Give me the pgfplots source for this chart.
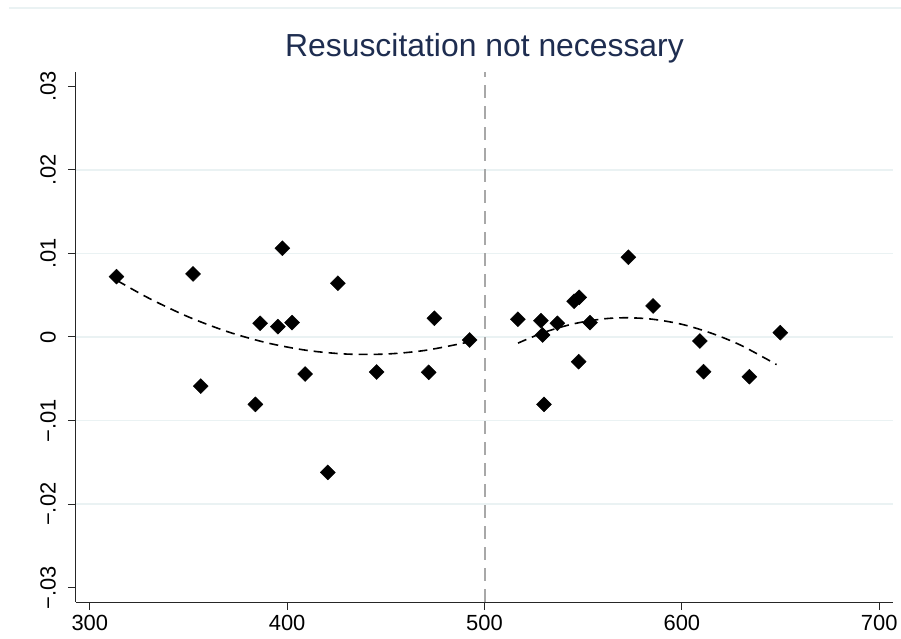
\documentclass[border=0pt]{standalone}
\usepackage{pgfplots}
\pgfplotsset{compat=1.18}
\usepackage{fontspec}
\setmainfont{Liberation Sans}
\definecolor{gridc}{HTML}{EAF2F3}
\definecolor{titlec}{HTML}{1E2D50}
\definecolor{vline}{HTML}{A8A8A8}
\begin{document}
\begin{tikzpicture}
\useasboundingbox (-76bp,-37bp) rectangle (825bp,602bp);
\draw[gridc, line width=1.5bp] (-67bp,594bp) -- (825bp,594bp);
\begin{axis}[at={(0,0)}, anchor=south west, scale only axis, width=817bp, height=530bp,
 xmin=293, xmax=707, ymin=-0.0317, ymax=0.0317,
 scaled y ticks=false, scaled x ticks=false,
 axis x line*=bottom, axis y line*=left, axis line style={line width=1bp, black!85, -},
 xtick={300,400,500,600,700}, xticklabels={300,400,500,600,700},
 ytick={-0.02,-0.01,0,0.01,0.02}, yticklabels={−.02,−.01,0,.01,.02},
 extra y ticks={-0.03,0.03}, extra y tick labels={−.03,.03}, extra y tick style={grid=none},
 ymajorgrids, grid style={gridc, line width=1.5bp},
 tick align=outside, major tick length=8bp, tick style={black!85, line width=1bp},
 ticklabel style={font=\fontsize{22}{24}\selectfont},
 yticklabel style={rotate=90, anchor=south, inner sep=0pt},
 xticklabel style={anchor=north, inner sep=0pt},
 yticklabel shift=12bp, xticklabel shift=5bp,
 clip=false,
]
\addplot[vline, line width=2bp, dash pattern=on 13bp off 8bp] coordinates {(500,-0.0317) (500,0.0317)};
\addplot[black, line width=1.6bp, dash pattern=on 9bp off 6bp, smooth] coordinates {
(314,0.00673) (330,0.00463) (350,0.00240) (370,0.00062) (390,-0.00071) (410,-0.0016) (430,-0.00204) (450,-0.00204) (470,-0.0016) (492,-0.0006)};
\addplot[black, line width=1.6bp, dash pattern=on 9bp off 6bp, smooth] coordinates {
(517,-0.00073) (530,0.00054) (545,0.00157) (560,0.00216) (572,0.0023) (585,0.00213) (600,0.00152) (615,0.00045) (630,-0.0010) (648,-0.0033)};
\addplot[only marks, mark=square*, mark size=5.3bp, mark options={rotate=45, fill=black, draw=black}] table {
x y
313.5 0.00722
352.3 0.00754
356.2 -0.00587
383.9 -0.00806
386.3 0.00164
395.3 0.00124
397.6 0.01062
402.5 0.00172
409.1 -0.00443
420.6 -0.0162
425.7 0.00643
445.3 -0.00419
471.7 -0.00423
474.6 0.00224
492.5 -0.00036
516.9 0.00212
528.6 0.00195
529.4 0.00024
530.1 -0.00806
536.9 0.00164
545.4 0.00427
548.0 0.00475
547.7 -0.00295
553.5 0.00172
572.9 0.00954
585.4 0.00371
609.1 -0.00048
611.0 -0.00415
634.2 -0.00475
649.9 0.00052
};
\end{axis}
\node[anchor=base, text=titlec, font=\fontsize{32}{35}\selectfont] at (408.5bp,545.3bp) {Resuscitation not necessary};
\end{tikzpicture}
\end{document}
